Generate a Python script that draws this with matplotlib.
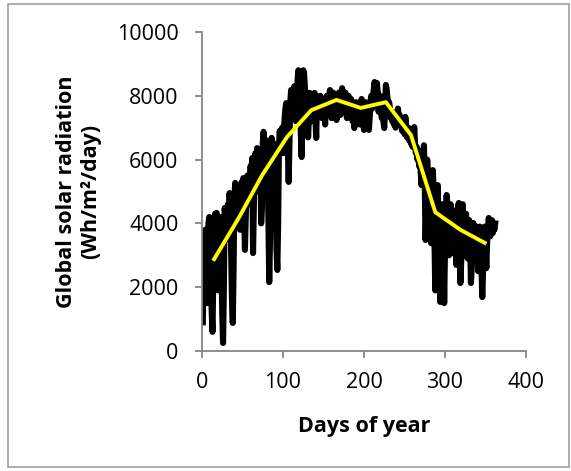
import matplotlib
matplotlib.use("Agg")
import matplotlib.pyplot as plt
from matplotlib.patches import Rectangle

plt.rcParams['font.family'] = ['Open Sans', 'DejaVu Sans']

# daily global solar radiation (Wh/m2/day), day 1..362
daily = [
    900, 3000, 3700, 3800, 2400, 1500, 3300, 4000, 4200, 3600,
    2200, 1200, 600, 2500, 3900, 4300, 4100, 4330, 3000, 1900,
    3600, 4200, 3800, 2600, 1200, 250, 2000, 4480, 4200, 3500,
    4300, 4600, 3900, 4950, 4500, 3000, 1600, 880, 2600, 4800,
    5270, 4900, 4200, 4800, 5100, 4600, 3800, 4900, 5300, 5000,
    5420, 4300, 3170, 4200, 5200, 5500, 5100, 4600, 5500, 5800,
    5600, 6050, 3070, 4500, 5900, 6200, 5500, 6360, 6000, 5000,
    5800, 6300, 4000, 4500, 6500, 6870, 6500, 5800, 6400, 6600,
    6000, 4000, 2160, 3500, 6300, 6680, 6400, 5900, 6500, 6200,
    4800, 3200, 2540, 4000, 6400, 6900, 6500, 6800, 7000, 6200,
    6800, 7300, 7600, 7770, 7400, 6300, 5300, 6500, 7800, 8180,
    7900, 7500, 7900, 8300, 8000, 7200, 7600, 8500, 8800, 8600,
    7900, 6800, 6080, 7500, 8800, 8700, 8300, 7600, 8100, 7400,
    6700, 7400, 8090, 7800, 7200, 7600, 8000, 7500, 8090, 7300,
    6680, 7900, 7700, 7400, 7900, 8000, 7600, 7300, 7800, 7900,
    7500, 7100, 7700, 8000, 7800, 7400, 7900, 8180, 7700, 7300,
    7900, 8100, 7600, 7800, 8000, 7240, 7500, 7800, 8100, 7700,
    7400, 7900, 8240, 7800, 7500, 8000, 8100, 7600, 7300, 7800,
    8000, 7700, 7400, 7900, 7600, 7200, 7500, 6990, 7400, 7800,
    7600, 7300, 7700, 7500, 7100, 7600, 7900, 7500, 7200, 6930,
    7500, 7800, 7400, 7600, 7200, 6930, 7300, 7800, 8000, 7600,
    7900, 8200, 8430, 8300, 7800, 8400, 8100, 7500, 7700, 8000,
    7600, 7300, 7700, 7200, 6990, 7600, 8340, 8200, 7900, 7500,
    7800, 7600, 7300, 7500, 7200, 7400, 7100, 7300, 7000, 7500,
    7300, 7600, 7200, 7400, 7100, 7300, 6900, 7200, 7000, 6800,
    7340, 7100, 6700, 6900, 7000, 6600, 6800, 6500, 6700, 6400,
    6600, 7020, 6500, 6200, 6400, 6000, 6300, 5800, 6100, 5600,
    5200, 5800, 5400, 6450, 5200, 3480, 4500, 6000, 5500, 4800,
    5300, 4200, 3380, 4700, 5670, 5000, 3500, 1900, 2800, 4600,
    5200, 4100, 3000, 1540, 2400, 4000, 4600, 3500, 1500, 3200,
    4300, 4890, 4500, 3800, 3000, 4200, 4600, 4000, 3070, 3700,
    4400, 4000, 3300, 2700, 3900, 4500, 4640, 3900, 2130, 2800,
    4200, 4600, 3700, 3000, 4000, 4300, 3800, 2900, 3600, 4100,
    3500, 2130, 2600, 3900, 4010, 3700, 3000, 3800, 3900, 3200,
    2500, 3600, 3900, 3400, 2700, 1690, 2500, 3500, 3900, 3300,
    2600, 3400, 3800, 4170, 3900, 3600, 3800, 4100, 3700, 3900,
    3800, 4000,
]
days = list(range(1, len(daily) + 1))

# monthly means (mid-month day)
month_days = [15, 46, 74, 105, 135, 166, 196, 227, 258, 288, 319, 349]
month_mean = [2880, 4200, 5500, 6710, 7550, 7870, 7620, 7800, 6770, 4350, 3800, 3390]

fig = plt.figure(figsize=(5.71, 4.71), dpi=100)
ax = fig.add_axes([202/571, 1 - 351/471, 324/571, 319/471])

ax.plot(days, daily, color='black', linewidth=4.4, solid_joinstyle='round')
ax.plot(month_days, month_mean, color='#ffff00', linewidth=2.8)

ax.set_xlim(0, 400)
ax.set_ylim(0, 10000)
ax.set_xticks([0, 100, 200, 300, 400])
ax.set_yticks([0, 2000, 4000, 6000, 8000, 10000])

grey = '#868686'
for s in ['top', 'right']:
    ax.spines[s].set_visible(False)
for s in ['left', 'bottom']:
    ax.spines[s].set_color(grey)
    ax.spines[s].set_linewidth(1.3)
ax.tick_params(direction='out', length=5, width=1.3, color=grey,
               labelsize=15.5, labelcolor='black')
ax.tick_params(axis='y', pad=12)
ax.tick_params(axis='x', pad=10)

ax.set_xlabel('Days of year', fontsize=15.5, fontweight='bold')
ax.set_ylabel('Global solar radiation\n(Wh/m\u00b2/day)', fontsize=15.5,
              fontweight='bold', linespacing=1.25)
ax.xaxis.set_label_coords(0.5, -0.205)
ax.yaxis.set_label_coords(-0.31, 0.5)

fig.patches.append(Rectangle((8/571, 4/471), 561/571, 463/471, transform=fig.transFigure,
                             fill=False, edgecolor='#a0a0a0', linewidth=1.2))

fig.savefig('out.png', dpi=100)
